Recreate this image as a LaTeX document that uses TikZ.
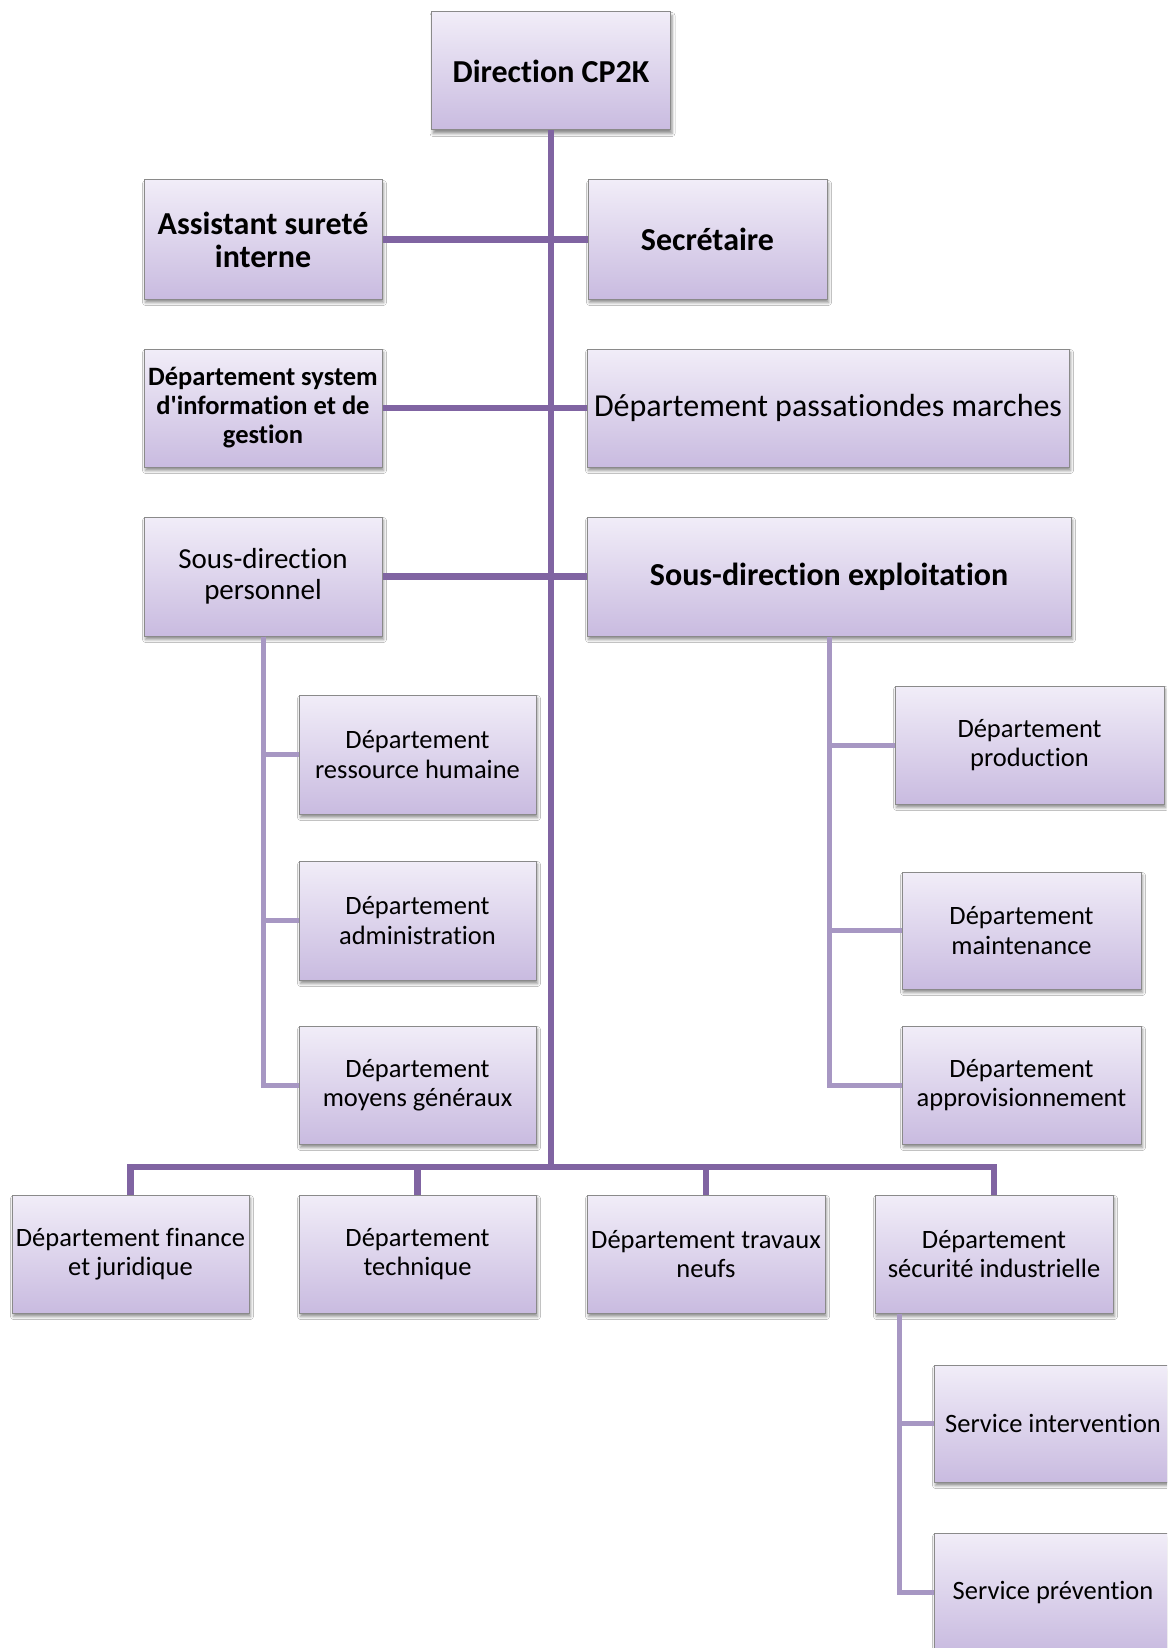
\documentclass[tikz,border=0pt]{standalone}
\usepackage{fontspec}
\setmainfont{Carlito}[Ligatures={NoCommon}]
\usetikzlibrary{shadows,shadows.blur}

\definecolor{boxtop}{HTML}{F1EDF8}
\definecolor{boxbot}{HTML}{C9BBE0}
\definecolor{boxline}{HTML}{8A8A8A}
\definecolor{mainlink}{HTML}{8064A2}
\definecolor{sublink}{HTML}{A797C3}

\tikzset{
  orgbox/.style={draw=boxline, line width=1pt, top color=boxtop, bottom color=boxbot,
    minimum width=238pt, minimum height=118pt, inner sep=2pt, align=center,
    blur shadow={shadow xshift=1.5pt, shadow yshift=-3.5pt, shadow blur radius=3pt, shadow opacity=45},
    font=\fontsize{26.5}{29.5}\selectfont},
  bigbold/.style={font=\fontsize{32}{33}\selectfont\bfseries},
  bigreg/.style={font=\fontsize{32}{34}\selectfont},
  midreg/.style={font=\fontsize{29}{31.5}\selectfont},
  smallbold/.style={font=\fontsize{26.5}{29}\selectfont\bfseries},
  mainline/.style={draw=mainlink, line width=6.5pt},
  subline/.style={draw=sublink, line width=5pt},
}

\begin{document}
\begin{tikzpicture}[x=1pt, y=-1pt]
\useasboundingbox (0,0) rectangle (1167,1648);
\fill[white] (0,0) rectangle (1167,1648);
\clip (0,0) rectangle (1167,1648);

% top level
\node[orgbox, bigbold, minimum width=239pt] (dir) at (551,71) {Direction CP2K};

% rows on both sides of the main line
\node[orgbox, bigbold, minimum height=119pt] (asst) at (263,239.5) {Assistant sureté\\interne};
\node[orgbox, bigbold, minimum width=239pt, minimum height=119pt] (secr) at (707.5,239.5) {Secrétaire};
\node[orgbox, smallbold] (dsig) at (263,408) {Département system\\d\textquotesingle information et de\\gestion};
\node[orgbox, bigreg, minimum width=482pt] (dpm) at (828,408) {Département passationdes marches};
\node[orgbox, midreg, minimum height=119pt] (sdp) at (263,576.5) {Sous-direction\\personnel};
\node[orgbox, bigbold, minimum width=484pt, minimum height=119pt] (sde) at (829,576.5) {Sous-direction exploitation};

% under Sous-direction personnel
\node[orgbox, minimum width=237pt, minimum height=119pt] (drh) at (417.5,754.5) {Département\\ressource humaine};
\node[orgbox, minimum width=237pt, minimum height=119pt] (dadm) at (417.5,920.5) {Département\\administration};
\node[orgbox, minimum width=237pt] (dmg) at (417.5,1085) {Département\\moyens généraux};

% under Sous-direction exploitation
\node[orgbox, minimum width=269pt] (dprod) at (1029.5,745) {Département\\production};
\node[orgbox, minimum width=239pt, minimum height=117pt] (dmaint) at (1021.5,930.5) {Département\\maintenance};
\node[orgbox, minimum width=239pt] (dappro) at (1021.5,1085) {Département\\approvisionnement};

% bottom row
\node[orgbox, minimum width=237pt] (dfin) at (130.5,1254) {Département finance\\et juridique};
\node[orgbox, minimum width=237pt] (dtech) at (417.5,1254) {Département\\technique};
\node[orgbox] (dtn) at (706,1254) {Département travaux\\neufs};
\node[orgbox] (dsec) at (994,1254) {Département\\sécurité industrielle};

% under Département sécurité industrielle
\node[orgbox, minimum height=117pt] (sint) at (1053,1423.5) {Service intervention};
\node[orgbox] (sprev) at (1053,1592) {Service prévention};

% connectors
\coordinate (bus) at (551,1167);
\draw[mainline] (dir.south) -- (bus);
\draw[mainline] (asst.east) -- (secr.west);
\draw[mainline] (dsig.east) -- (dpm.west);
\draw[mainline] (sdp.east) -- (sde.west);
\draw[mainline] (dfin.north) |- (bus) -| (dsec.north);
\draw[mainline] (dtech.north) -- (dtech.north |- bus);
\draw[mainline] (dtn.north) -- (dtn.north |- bus);

\draw[subline] (sdp.south) |- (drh.west);
\draw[subline] (sdp.south) |- (dadm.west);
\draw[subline] (sdp.south) |- (dmg.west);

\draw[subline] (sde.south) |- (dprod.west);
\draw[subline] (sde.south) |- (dmaint.west);
\draw[subline] (sde.south) |- (dappro.west);

\coordinate (sectap) at ([xshift=25pt]dsec.south west);
\draw[subline] (sectap) |- (sint.west);
\draw[subline] (sectap) |- (sprev.west);
\end{tikzpicture}
\end{document}
